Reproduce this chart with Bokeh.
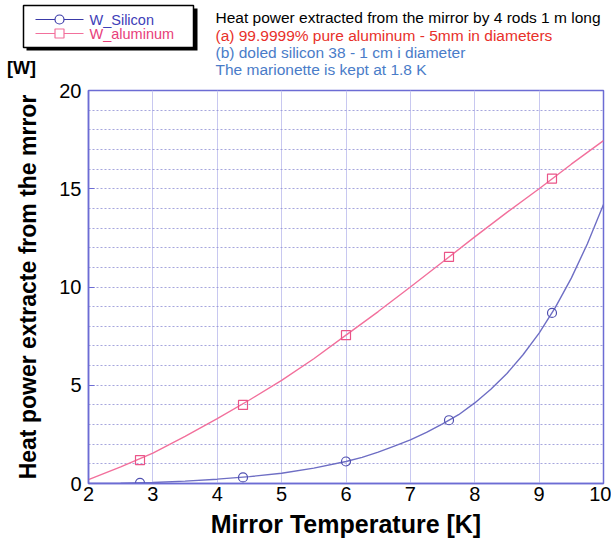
from bokeh.plotting import figure
from bokeh.models import Range1d, FixedTicker, ColumnDataSource
from bokeh.core.properties import value
from bokeh.embed import file_html
from bokeh.resources import INLINE

# ---------------- data ----------------
aluminum_x = [2.0, 2.5, 3.0, 3.5, 4.0, 4.5, 5.0, 5.5, 6.0, 6.5, 7.0, 7.5, 8.0, 8.5, 9.0, 9.5, 10.0]
aluminum_curve = [0.2, 0.85, 1.55, 2.4, 3.3, 4.25, 5.25, 6.35, 7.55, 8.75, 10.0, 11.27, 12.55, 13.8, 15.0, 16.25, 17.45]
silicon_x = [2.0, 2.5, 3.0, 3.5, 4.0, 4.5, 5.0, 5.5, 6.0, 6.25, 6.5, 6.75, 7.0, 7.25, 7.5, 7.75,
             8.0, 8.25, 8.5, 8.75, 9.0, 9.25, 9.5, 9.75, 10.0]
silicon_curve = [0.0, 0.01, 0.05, 0.12, 0.22, 0.35, 0.52, 0.78, 1.12, 1.33, 1.6, 1.9, 2.22, 2.6, 3.03, 3.5,
                 4.1, 4.8, 5.6, 6.55, 7.65, 8.95, 10.45, 12.2, 14.2]
marker_x = [2.8, 4.4, 6.0, 7.6, 9.2]
aluminum_markers = [1.19, 4.0, 7.55, 11.53, 15.52]
silicon_markers = [0.03, 0.31, 1.12, 3.22, 8.68]
x_ticks = [2, 3, 4, 5, 6, 7, 8, 9, 10]
y_ticks = [0, 5, 10, 15, 20]
y_grid = list(range(0, 21))

series_names = ["W_Silicon", "W_aluminum"]
note_lines = [
    "Heat power extracted from the mirror by 4 rods 1 m  long",
    "(a)  99.9999% pure aluminum - 5mm in diameters",
    "(b) doled silicon 38 - 1 cm i diameter",
    "The marionette is kept at 1.8 K",
]
x_title = "Mirror Temperature [K]"
y_title = "Heat power extracte from the mrror"
y_unit = "[W]"

# ---------------- styles ----------------
W = 611
HEAD_H = 78
MAIN_H = 541 - HEAD_H
FONT = "Liberation Sans"
AL_COL = "#f2709c"
SI_COL = "#6e6ec4"
AXIS_COL = "#6c6cd4"

# ---------------- header (legend + notes) ----------------
h = figure(width=W, height=HEAD_H, x_range=Range1d(0, W), y_range=Range1d(HEAD_H, 0),
           x_axis_type=None, y_axis_type=None, output_backend="svg", toolbar_location=None,
           min_border=0, min_border_left=0, min_border_right=0, min_border_top=0,
           min_border_bottom=0)
h.outline_line_color = None
h.background_fill_color = "white"
h.border_fill_color = "white"

# legend box with shadow
h.quad(left=[26], right=[197], top=[8], bottom=[50], fill_color="black", line_color=None)
h.quad(left=[23], right=[193], top=[5], bottom=[47], fill_color="white", line_color="black",
       line_width=1.5)
leg_y = [19, 33]
leg_cols = ["#3a3aa8", AL_COL]
leg_text_cols = ["#4040b8", "#e8407a"]
h.segment(x0=[35, 35], y0=leg_y, x1=[83, 83], y1=leg_y, line_color=leg_cols, line_width=1.2)
h.scatter(x=[59], y=[leg_y[0]], marker="circle", size=9, line_color=leg_cols[0],
          fill_color="white", line_width=1.2)
h.scatter(x=[59], y=[leg_y[1]], marker="square", size=9, line_color=leg_cols[1],
          fill_color="white", line_width=1.2)
h.text(x=[89, 89], y=leg_y, text=series_names, text_color=leg_text_cols,
       text_font=value(FONT), text_font_size="14.5px", text_baseline="middle")

# notes
note_src = ColumnDataSource(dict(
    x=[215] * 4, y=[16.5, 34.5, 52, 69], text=note_lines,
    color=["black", "#e8302a", "#4a7cc8", "#4a7cc8"]))
h.text(x="x", y="y", text="text", text_color="color", source=note_src,
       text_font=value(FONT), text_font_size="15.5px", text_baseline="middle")

# unit label
h.text(x=[21], y=[67], text=[y_unit], text_font=value(FONT), text_font_size="18px",
       text_font_style="bold", text_align="center", text_baseline="middle", text_color="black")

# ---------------- main plot ----------------
p = figure(width=W, height=MAIN_H, x_range=Range1d(2, 10), y_range=Range1d(0, 20),
           output_backend="svg", toolbar_location=None,
           min_border_left=88, min_border_right=8, min_border_top=90 - HEAD_H,
           min_border_bottom=58)
p.background_fill_color = "white"
p.border_fill_color = "white"
p.outline_line_color = AXIS_COL
p.outline_line_width = 1.5

xa = p.xaxis[0]
xa.ticker = FixedTicker(ticks=x_ticks)
xa.major_label_text_font = FONT
xa.major_label_text_font_size = "20px"
xa.major_label_text_color = "black"
xa.major_tick_in = 0
xa.major_tick_out = 0
xa.minor_tick_line_color = None
xa.axis_line_color = AXIS_COL
xa.axis_line_width = 1.5
xa.major_label_standoff = 3
xa.axis_label = x_title
xa.axis_label_text_font = FONT
xa.axis_label_text_font_size = "25px"
xa.axis_label_text_font_style = "bold"
xa.axis_label_text_color = "black"
xa.axis_label_standoff = 6

ya = p.yaxis[0]
ya.ticker = FixedTicker(ticks=y_ticks)
ya.major_label_text_font = FONT
ya.major_label_text_font_size = "20px"
ya.major_label_text_color = "black"
ya.major_tick_in = 6
ya.major_tick_out = 0
ya.major_tick_line_color = AXIS_COL
ya.minor_tick_line_color = None
ya.axis_line_color = AXIS_COL
ya.axis_line_width = 1.5
ya.major_label_standoff = 7
ya.axis_label = y_title
ya.axis_label_text_font = FONT
ya.axis_label_text_font_size = "23px"
ya.axis_label_text_font_style = "bold"
ya.axis_label_text_color = "black"
ya.axis_label_standoff = 15

p.xgrid.ticker = FixedTicker(ticks=x_ticks)
p.xgrid.grid_line_color = "#c8c8f0"
p.xgrid.grid_line_width = 1
p.ygrid.ticker = FixedTicker(ticks=y_grid)
p.ygrid.grid_line_color = "#9090d4"
p.ygrid.grid_line_dash = "2 2"
p.ygrid.grid_line_width = 1
p.ygrid.grid_line_alpha = 0.8

p.line(aluminum_x, aluminum_curve, line_color=AL_COL, line_width=1.4)
p.line(silicon_x, silicon_curve, line_color=SI_COL, line_width=1.4)
p.scatter(marker_x, aluminum_markers, marker="square", size=9, line_color="#ea5488",
          fill_alpha=0, line_width=1.2)
p.scatter(marker_x, silicon_markers, marker="circle", size=9, line_color="#5050b0",
          fill_alpha=0, line_width=1.2)

open("out.html", "w").write(file_html([h, p], INLINE))
